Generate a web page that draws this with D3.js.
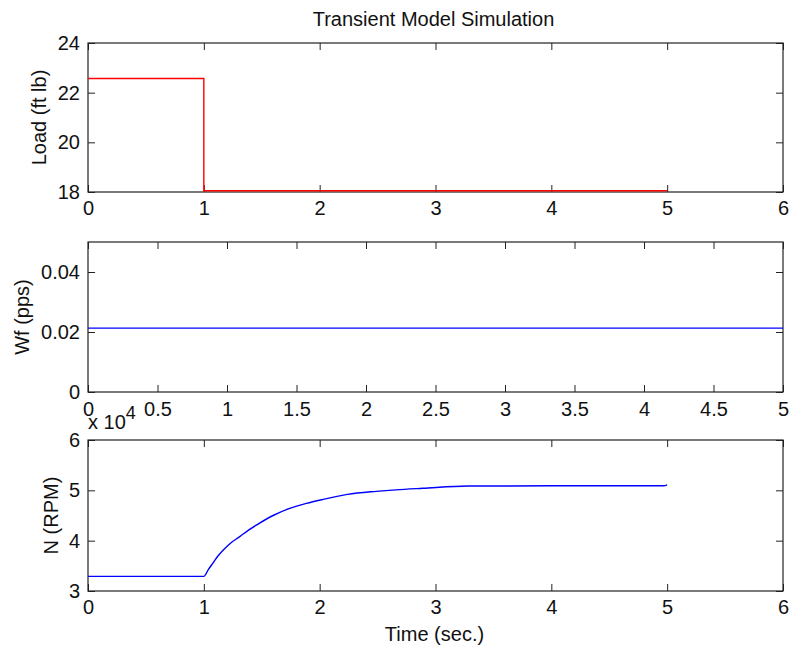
<!DOCTYPE html>
<html>
<head>
<meta charset="utf-8">
<script src="https://cdn.jsdelivr.net/npm/d3@7"></script>
<style>
  html, body { margin: 0; padding: 0; background: #fff; }
  svg { display: block; font-family: "Liberation Sans", Arial, Helvetica, sans-serif; }
</style>
</head>
<body>
<svg id="chart" width="790" height="652"></svg>
<script>
// ---- Data ----
const titleText = "Transient Model Simulation";

const loadTime = [0, 1, 1, 5];
const loadValues = [22.57, 22.57, 18.05, 18.05];

const wfTime = [0, 5];
const wfValues = [0.0213, 0.0213];

const nTime = [0, 1, 1.04, 1.08, 1.12, 1.166, 1.23, 1.31, 1.38, 1.454, 1.598, 1.741, 1.885, 2.03, 2.24, 2.49, 2.66, 2.89, 3.28, 4.0, 4.97, 5.0];
const nValues = [32900, 32900, 34300, 35600, 36900, 38100, 39500, 40800, 42000, 43100, 45000, 46400, 47400, 48200, 49200, 49800, 50100, 50400, 50850, 50900, 50900, 51100];

const timeTicks = [0, 1, 2, 3, 4, 5, 6];
const wfTimeTicks = [0, 0.5, 1, 1.5, 2, 2.5, 3, 3.5, 4, 4.5, 5];
const loadTicks = [18, 20, 22, 24];
const wfTicks = [0, 0.02, 0.04];
const nTicks = [30000, 40000, 50000, 60000];

// ---- Layout ----
const svg = d3.select("#chart");
const L = 88, R = 783;
const FS = 20;
const TICK = 7;

function panel(cfg) {
  const x = d3.scaleLinear().domain(cfg.xDomain).range([L, R]);
  const y = d3.scaleLinear().domain(cfg.yDomain).range([cfg.bottom, cfg.top]);
  const g = svg.append("g");

  const ax = (axis, tr) => {
    const a = g.append("g").attr("transform", tr).call(axis);
    a.select(".domain").remove();
    a.selectAll(".tick line").attr("stroke", "#222").attr("stroke-width", 1);
    a.selectAll("text").attr("font-size", FS).attr("fill", "#111").attr("font-family", null);
    return a;
  };
  ax(d3.axisBottom(x).tickValues(cfg.xTicks).tickSize(-TICK).tickPadding(cfg.xPad || 9).tickFormat(cfg.xFmt),
     `translate(0,${cfg.bottom})`);
  ax(d3.axisTop(x).tickValues(cfg.xTicks).tickSize(-TICK).tickFormat(""), `translate(0,${cfg.top})`);
  ax(d3.axisLeft(y).tickValues(cfg.yTicks).tickSize(-TICK).tickPadding(8).tickFormat(cfg.yFmt),
     `translate(${L},0)`);
  ax(d3.axisRight(y).tickValues(cfg.yTicks).tickSize(-TICK).tickFormat(""), `translate(${R},0)`);

  g.append("rect").attr("x", L).attr("y", cfg.top).attr("width", R - L).attr("height", cfg.bottom - cfg.top)
    .attr("fill", "none").attr("stroke", "#222").attr("stroke-width", 1.2);

  const pts = cfg.t.map((t, i) => [t, cfg.v[i]]);
  g.append("path").datum(pts)
    .attr("fill", "none").attr("stroke", cfg.color).attr("stroke-width", 1.4)
    .attr("d", d3.line().curve(cfg.curve || d3.curveLinear).x(d => x(d[0])).y(d => y(d[1])));

  g.append("text")
    .attr("transform", `translate(${cfg.labelX},${(cfg.top + cfg.bottom) / 2}) rotate(-90)`)
    .attr("text-anchor", "middle").attr("font-size", FS).attr("fill", "#111")
    .text(cfg.ylabel);
  return { x, y };
}

panel({
  top: 43, bottom: 192, xDomain: [0, 6], yDomain: [18, 24],
  xTicks: timeTicks, yTicks: loadTicks, xFmt: d3.format("d"), yFmt: d3.format("d"),
  t: loadTime, v: loadValues, color: "#ff0000", ylabel: "Load (ft lb)", labelX: 46
});

panel({
  top: 242, bottom: 392, xDomain: [0, 5], yDomain: [0, 0.05],
  xTicks: wfTimeTicks, yTicks: wfTicks, xFmt: d => String(d), yFmt: d => String(d),
  t: wfTime, v: wfValues, color: "#0000ff", ylabel: "Wf (pps)", labelX: 29, xPad: 10
});

panel({
  top: 440, bottom: 591, xDomain: [0, 6], yDomain: [30000, 60000],
  xTicks: timeTicks, yTicks: nTicks, xFmt: d3.format("d"), yFmt: d => String(d / 10000),
  t: nTime, v: nValues, color: "#0000ff", ylabel: "N (RPM)", labelX: 58, curve: d3.curveMonotoneX
});

// exponent label
const ex = svg.append("text").attr("x", 88).attr("y", 429).attr("font-size", FS).attr("fill", "#111");
ex.append("tspan").text("x 10");
ex.append("tspan").attr("dy", -10).attr("font-size", 18).text("4");

// title
svg.append("text").attr("x", (L + R) / 2 - 2).attr("y", 26).attr("text-anchor", "middle")
  .attr("font-size", FS).attr("fill", "#111").text(titleText);

// x label
svg.append("text").attr("x", (L + R) / 2 - 1).attr("y", 641).attr("text-anchor", "middle")
  .attr("font-size", FS).attr("fill", "#111").text("Time (sec.)");
</script>
</body>
</html>
